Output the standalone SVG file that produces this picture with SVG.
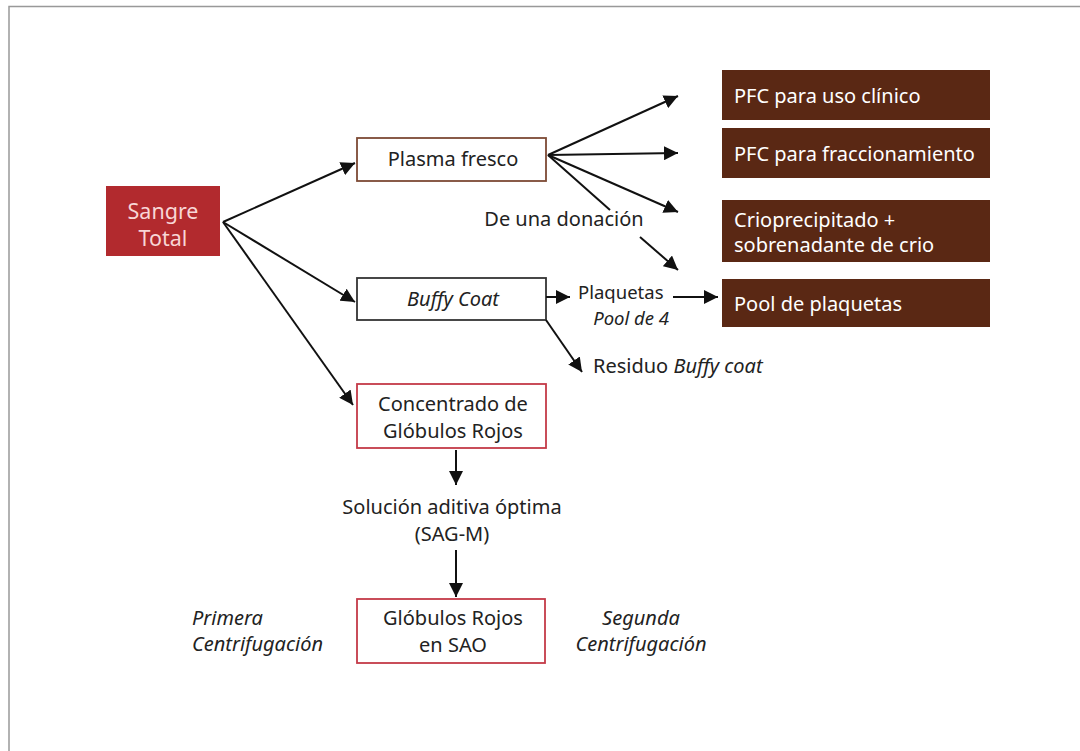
<svg xmlns="http://www.w3.org/2000/svg" width="1080" height="751" viewBox="0 0 1080 751">
<defs>
<marker id="ah" viewBox="0 0 10 10" refX="10" refY="5" markerWidth="14" markerHeight="14" markerUnits="userSpaceOnUse" orient="auto">
<path d="M0,0 L10,5 L0,10 z" fill="#111"/>
</marker>
<style>
text{font-family:"Noto Sans","Open Sans",sans-serif;font-size:20px;fill:#222}
.c{text-anchor:middle}
.i{font-style:italic}
.w{fill:#fff;font-size:20px}
.br{fill:#5a2814}
.ln{stroke:#111;stroke-width:2;fill:none}
.ar{stroke:#111;stroke-width:2;fill:none;marker-end:url(#ah)}
</style>
</defs>
<rect width="1080" height="751" fill="#fff"/>
<path d="M9,751 V6.5 H1080" stroke="#999" stroke-width="1.5" fill="none"/>

<g id="sangre">
<rect x="106" y="186" width="114" height="70" fill="#b22a2e"/>
<text x="163" y="219" class="c" style="fill:#f8d6d6;font-size:21.5px">Sangre</text>
<text x="163" y="246" class="c" style="fill:#f8d6d6;font-size:21.5px">Total</text>
</g>

<g id="plasma">
<rect x="357" y="138" width="189" height="43" fill="#fff" stroke="#7d4a35" stroke-width="1.8"/>
<text x="453" y="166" class="c">Plasma fresco</text>
</g>

<g id="buffy">
<rect x="357" y="278" width="189" height="42" fill="#fff" stroke="#333" stroke-width="1.8"/>
<text x="453" y="306" class="c i">Buffy Coat</text>
</g>

<g id="concentrado">
<rect x="357" y="384" width="189" height="64" fill="#fff" stroke="#c43a48" stroke-width="1.8"/>
<text x="453" y="411" class="c">Concentrado de</text>
<text x="453" y="438" class="c">Glóbulos Rojos</text>
</g>

<g id="sao">
<rect x="357" y="599" width="188" height="64" fill="#fff" stroke="#c43a48" stroke-width="1.8"/>
<text x="453" y="625" class="c">Glóbulos Rojos</text>
<text x="453" y="652" class="c">en SAO</text>
</g>

<g id="pfc-clinico">
<rect x="722" y="70" width="268" height="50" class="br"/>
<text x="734" y="103" class="w">PFC para uso clínico</text>
</g>
<g id="pfc-fracc">
<rect x="722" y="128" width="268" height="50" class="br"/>
<text x="734" y="161" class="w">PFC para fraccionamiento</text>
</g>
<g id="crio">
<rect x="722" y="200" width="268" height="62" class="br"/>
<text x="734" y="227" class="w">Crioprecipitado +</text>
<text x="734" y="252" class="w">sobrenadante de crio</text>
</g>
<g id="pool">
<rect x="722" y="279" width="268" height="48" class="br"/>
<text x="734" y="311" class="w">Pool de plaquetas</text>
</g>

<g id="labels">
<text x="564" y="226" class="c">De una donación</text>
<text x="578" y="299" style="font-size:18.5px">Plaquetas</text>
<text x="669" y="325" class="i" text-anchor="end" style="font-size:18.5px">Pool de 4</text>
<text x="593" y="373">Residuo <tspan class="i">Buffy coat</tspan></text>
<text x="452" y="514" class="c">Solución aditiva óptima</text>
<text x="452" y="541" class="c">(SAG-M)</text>
<text x="192" y="625" class="i">Primera</text>
<text x="192" y="651" class="i">Centrifugación</text>
<text x="641" y="625" class="c i">Segunda</text>
<text x="641" y="651" class="c i">Centrifugación</text>
</g>

<g id="connectors">
<path class="ar" d="M223,222 L355,163"/>
<path class="ar" d="M223,222 L355,302"/>
<path class="ar" d="M223,222 L353,405"/>
<path class="ar" d="M548,155 L678,96"/>
<path class="ar" d="M548,155 L678,153"/>
<path class="ar" d="M548,155 L678,212"/>
<path class="ln" d="M548,155 L610,210"/>
<path class="ar" d="M640,237 L678,270"/>
<path class="ar" d="M546,297 L570,297"/>
<path class="ar" d="M673,297 L718,297"/>
<path class="ar" d="M546,320 L582,372"/>
<path class="ar" d="M456,450 L456,485"/>
<path class="ar" d="M456,550 L456,597"/>
</g>
</svg>
